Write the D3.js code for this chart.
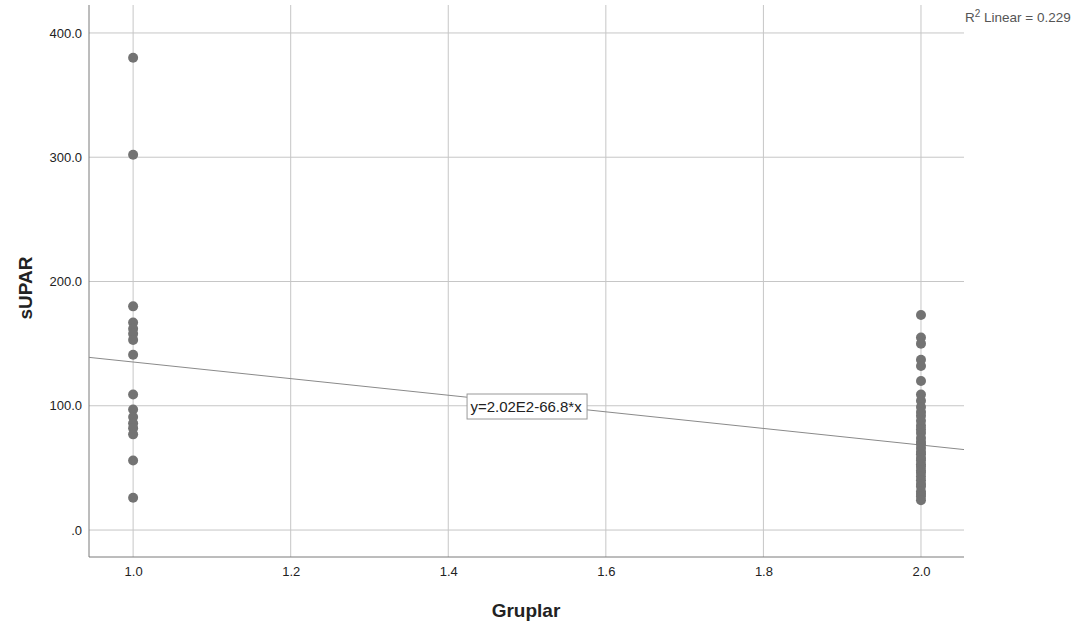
<!DOCTYPE html>
<html>
<head>
<meta charset="utf-8">
<script src="https://cdn.jsdelivr.net/npm/d3@7/dist/d3.min.js"></script>
<style>
  body { margin: 0; background: #fff; }
  svg { display: block; font-family: "Liberation Sans", Arial, sans-serif; }
</style>
</head>
<body>
<svg id="chart" width="1086" height="630"></svg>
<script>
// sUPAR values per group
const group1 = [380, 302, 180, 167, 162, 158, 153, 141, 109, 97, 91, 86, 82, 77, 56, 26];
const group2 = [173, 155, 150, 137, 132, 120, 109, 104, 99, 95, 92, 88, 84, 81, 78, 74, 71,
                69, 66, 63, 61, 58, 56, 53, 51, 48, 46, 43, 40, 37, 35, 31, 29, 27, 24];
const groups = [1, 2];
const xTicks = [1.0, 1.2, 1.4, 1.6, 1.8, 2.0];
const yTicks = [0, 100, 200, 300, 400];
const fit = { a: 202, b: -66.8, r2: 0.229 };

const svg = d3.select("#chart");
const plotL = 89, plotR = 964, plotT = 5, plotB = 557;

const x = d3.scaleLinear().domain([0.944, 2.0546]).range([plotL, plotR]);
const y = d3.scaleLinear().domain([-21.7, 422.5]).range([plotB, plotT]);

const points = [];
[group1, group2].forEach((vals, i) => vals.forEach(v => points.push({ g: groups[i], v })));

// grid lines
svg.append("g")
    .selectAll("line")
    .data(yTicks)
    .join("line")
    .attr("x1", plotL).attr("x2", plotR)
    .attr("y1", d => y(d)).attr("y2", d => y(d))
    .attr("stroke", "#c6c6c6").attr("stroke-width", 1);

svg.append("g")
    .selectAll("line")
    .data(xTicks)
    .join("line")
    .attr("x1", d => x(d)).attr("x2", d => x(d))
    .attr("y1", plotT).attr("y2", plotB)
    .attr("stroke", "#c6c6c6").attr("stroke-width", 1);

// axes
const yAxis = svg.append("g")
    .attr("transform", `translate(${plotL},0)`)
    .call(d3.axisLeft(y).tickValues(yTicks).tickSize(0).tickPadding(7)
        .tickFormat(d => d === 0 ? ".0" : d3.format(".1f")(d)));
yAxis.select(".domain").attr("stroke", "#7a7a7a").attr("d", `M0,${plotT}V${plotB}`);
yAxis.selectAll("text").attr("font-size", 13).attr("fill", "#222");

const xAxis = svg.append("g")
    .attr("transform", `translate(0,${plotB})`)
    .call(d3.axisBottom(x).tickValues(xTicks).tickSize(0).tickPadding(10)
        .tickFormat(d3.format(".1f")));
xAxis.select(".domain").attr("stroke", "#7a7a7a").attr("d", `M${plotL},0H${plotR}`);
xAxis.selectAll("text").attr("font-size", 13).attr("fill", "#222");

// fit line
const [x0, x1] = x.domain();
svg.append("line")
    .attr("x1", x(x0)).attr("y1", y(fit.a + fit.b * x0))
    .attr("x2", x(x1)).attr("y2", y(fit.a + fit.b * x1))
    .attr("stroke", "#8a8a8a").attr("stroke-width", 1);

// points
svg.append("g")
    .selectAll("circle")
    .data(points)
    .join("circle")
    .attr("cx", d => x(d.g))
    .attr("cy", d => y(d.v))
    .attr("r", 5)
    .attr("fill", "#737373");

// equation label
const lx = 1.5, ly = 99.4;
const lab = svg.append("g").attr("transform", `translate(${x(lx) - 60},${y(ly) - 12.5})`);
lab.append("rect").attr("width", 120).attr("height", 25)
    .attr("fill", "#fff").attr("stroke", "#999");
lab.append("text").attr("x", 59).attr("y", 18).attr("text-anchor", "middle")
    .attr("font-size", 15).attr("fill", "#222")
    .text(`y=2.02E2${fit.b}*x`);

// R2 label
const r2 = svg.append("text").attr("x", 965).attr("y", 22)
    .attr("font-size", 13.5).attr("fill", "#555");
r2.append("tspan").text("R");
r2.append("tspan").attr("font-size", 10).attr("dy", -5).text("2");
r2.append("tspan").attr("dy", 5).text(` Linear = ${fit.r2}`);

// axis titles
svg.append("text")
    .attr("transform", "translate(32,288) rotate(-90)")
    .attr("text-anchor", "middle")
    .attr("font-size", 19).attr("font-weight", "bold").attr("fill", "#222")
    .text("sUPAR");

svg.append("text")
    .attr("x", 526).attr("y", 617)
    .attr("text-anchor", "middle")
    .attr("font-size", 19).attr("font-weight", "bold").attr("fill", "#222")
    .text("Gruplar");
</script>
</body>
</html>
